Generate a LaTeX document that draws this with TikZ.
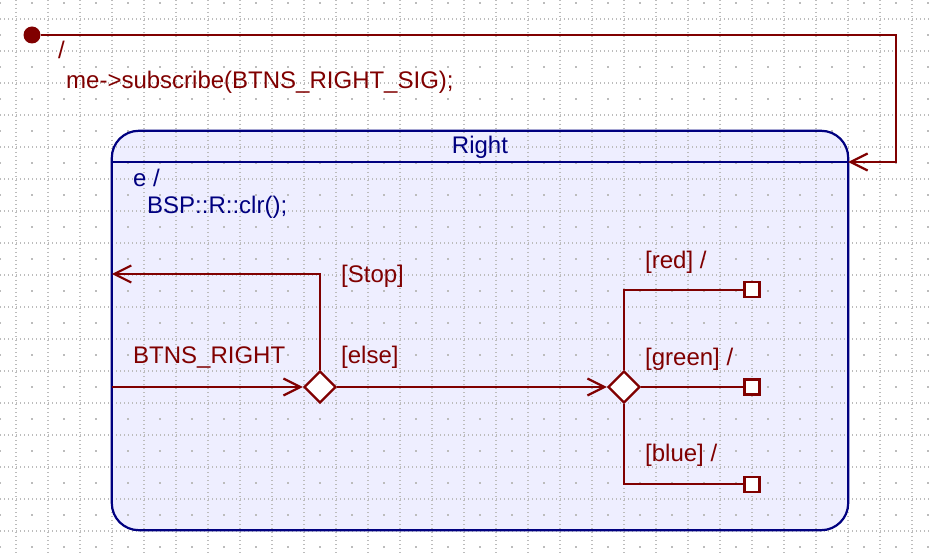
\documentclass[tikz,border=0pt]{standalone}
\usepackage{fontspec}
\setmainfont{Liberation Sans}
\usepackage{xcolor}
\usetikzlibrary{positioning,shapes,arrows.meta}

\definecolor{trancol}{RGB}{128,0,0}
\definecolor{statecol}{RGB}{0,0,128}
\definecolor{statefill}{RGB}{238,238,255}
\definecolor{gridcol}{RGB}{188,188,188}

\begin{document}
\begin{tikzpicture}[
  x=1pt, y=-1pt,
  font=\fontsize{24}{28}\selectfont,
  statenode/.style={rectangle, rounded corners=27pt, fill=statefill, minimum width=736pt, minimum height=399pt},
  choicenode/.style={diamond, draw=trancol, line width=2.2pt, fill=white, minimum size=32pt, inner sep=0pt},
  endnode/.style={rectangle, draw=trancol, line width=2.2pt, fill=white, minimum size=15pt, inner sep=0pt},
  initnode/.style={circle, fill=trancol, minimum size=17pt, inner sep=0pt},
  trantext/.style={anchor=base west, inner sep=0pt, text=trancol},
  statetext/.style={anchor=base west, inner sep=0pt, text=statecol},
  tran/.style={draw=trancol, line width=2.2pt},
  tranarrow/.style={tran, -{Straight Barb[length=17pt,width=17pt]}},
  gridline/.style={draw=gridcol, line width=1.4pt, dash pattern=on 1.4pt off 2.6pt}
]
\fill[white] (0,0) rectangle (931,553);
\useasboundingbox (0,0) rectangle (931,553);

%State
\node[statenode] (right) at (480,330.5) {};

%Grid
\foreach \gx in {16,48,...,912} \draw[gridline] (\gx,0) -- (\gx,553);
\foreach \gy in {19,51,...,531} \draw[gridline] (0,\gy) -- (931,\gy);
\foreach \gx in {0,32,...,928}
  \foreach \gy in {3,35,...,547}
    \fill[gridcol] (\gx-0.8,\gy-0.8) rectangle ++(1.6,1.6);

\draw[statecol, line width=2.2pt, rounded corners=27pt] (right.north west) rectangle (right.south east);
\draw[statecol, line width=2.2pt] ([yshift=-31.5pt]right.north west) -- ([yshift=-31.5pt]right.north east);

%Nodes
\node[initnode] (init) at (32,35) {};
\node[choicenode] (choice1) at (320,387) {};
\node[choicenode] (choice2) at (624,387) {};
\node[endnode] (greenend) at (752,387) {};
\node[endnode, above=80pt of greenend] (redend) {};
\node[endnode, below=80pt of greenend] (blueend) {};

\coordinate (initbend1) at (896,35);
\coordinate (initbend2) at (896,162);
\coordinate (stopbend) at (320,274);

%Texts
\node[trantext] (initslash) at (58,59) {/};
\node[trantext] (initaction) at (66,89) {me->subscribe(BTNS\_RIGHT\_SIG);};
\node[statetext, anchor=base] (title) at (480,154) {Right};
\node[statetext] (entry) at (133,187) {e /};
\node[statetext] (entryaction) at (147,214) {BSP::R::clr();};
\node[trantext] (stoplbl) at (341,283) {[Stop]};
\node[trantext] (siglbl) at (133,363) {BTNS\_RIGHT};
\node[trantext] (elselbl) at (341,363) {[else]};
\node[trantext] (redlbl) at (645,269) {[red] /};
\node[trantext] (greenlbl) at (645,365) {[green] /};
\node[trantext] (bluelbl) at (645,461) {[blue] /};

%Arrows
\draw[tranarrow] (init) -- (initbend1) -- (initbend2) -- (initbend2 -| right.east);
\draw[tranarrow] (right.west |- choice1) -- (choice1.west);
\draw[tranarrow] (choice1.north) -- (stopbend) -- (stopbend -| right.west);
\draw[tranarrow] (choice1.east) -- (choice2.west);
\draw[tran] (choice2.north) |- (redend.west);
\draw[tran] (choice2.east) -- (greenend.west);
\draw[tran] (choice2.south) |- (blueend.west);
\end{tikzpicture}
\end{document}
